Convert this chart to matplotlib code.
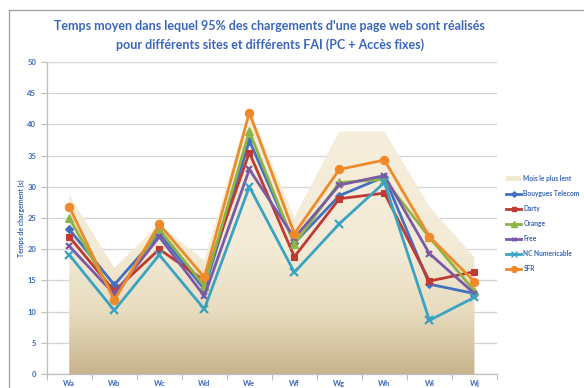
import numpy as np
import matplotlib.pyplot as plt
from matplotlib.patches import Polygon
from matplotlib.lines import Line2D

plt.rcParams['font.family'] = ['Lato', 'DejaVu Sans']

sites = ['Wa', 'Wb', 'Wc', 'Wd', 'We', 'Wf', 'Wg', 'Wh', 'Wi', 'Wj']
mois_lent = [28.7, 17.0, 24.0, 18.2, 42.5, 25.1, 38.9, 38.9, 26.8, 18.7]
bouygues = [23.2, 14.3, 22.5, 13.6, 37.4, 21.0, 28.6, 31.6, 14.4, 12.9]
darty = [22.0, 13.3, 20.0, 15.0, 35.5, 18.8, 28.1, 29.0, 14.9, 16.4]
orange = [25.0, 12.3, 23.2, 14.1, 38.9, 20.8, 30.7, 31.2, 21.9, 13.3]
free = [20.5, 12.8, 22.0, 12.5, 32.8, 21.8, 30.3, 31.8, 19.3, 12.9]
numericable = [19.1, 10.2, 19.1, 10.4, 30.0, 16.3, 24.1, 30.7, 8.6, 12.3]
sfr = [26.8, 11.8, 24.0, 15.5, 41.9, 22.5, 32.8, 34.3, 22.0, 14.8]

series = [
    ('Bouygues Telecom', bouygues, '#4470c0', 'D', 4.0),
    ('Darty', darty, '#bf3a32', 's', 5.0),
    ('Orange', orange, '#8db546', '^', 5.5),
    ('Free', free, '#7a5aa6', 'x', 5.0),
    ('NC Numericable', numericable, '#3aa3c2', 'x', 6.0),
    ('SFR', sfr, '#ef8a2a', 'o', 6.0),
]

blue = '#3a66bb'

fig = plt.figure(figsize=(5.84, 3.88), dpi=100)
ax = fig.add_axes([0.080, 0.036, 0.771, 0.804])

x = np.arange(len(sites))

# slowest month as a shaded area with a vertical gradient
verts = [(x[0], 0)] + list(zip(x, mois_lent)) + [(x[-1], 0)]
poly = Polygon(verts, closed=True, facecolor='none', edgecolor='none')
ax.add_patch(poly)
cmap = plt.matplotlib.colors.LinearSegmentedColormap.from_list(
    'sable', [(0.0, '#c8b48c'), (0.2, '#e8dcbf'), (0.4, '#f3ebd6'), (1.0, '#f7f0df')])
grad = np.linspace(0, 1, 256).reshape(-1, 1)
im = ax.imshow(grad, extent=[x[0], x[-1], 0, 50], origin='lower', aspect='auto',
               cmap=cmap, zorder=1)
im.set_clip_path(poly)

for name, vals, col, mk, ms in series:
    mew = 1.6 if mk == 'x' else 0.8
    ax.plot(x, vals, color=col, lw=2.0, marker=mk, markersize=ms,
            markeredgecolor=col, markeredgewidth=mew, zorder=3)

ax.set_xlim(-0.5, 9.5)
ax.set_ylim(0, 50)
ax.set_yticks(range(0, 51, 5))
ax.set_xticks(x)
ax.set_xticklabels(sites)
ax.set_xticks(np.arange(-0.5, 10, 1), minor=True)
ax.grid(axis='y', color='#d4d4d4', lw=0.9, zorder=0)
ax.set_axisbelow(True)
for s in ['top', 'right']:
    ax.spines[s].set_visible(False)
for s in ['left', 'bottom']:
    ax.spines[s].set_color('#bdbdbd')
    ax.spines[s].set_linewidth(0.9)
ax.tick_params(axis='y', colors='#bdbdbd', labelcolor=blue, labelsize=5.5, length=4, width=0.8)
ax.tick_params(axis='x', which='major', length=0, labelcolor=blue, labelsize=5.5, pad=4)
ax.tick_params(axis='x', which='minor', length=4, color='#bdbdbd', width=0.8)
for lab in ax.get_xticklabels() + ax.get_yticklabels():
    lab.set_fontweight('bold')
ax.set_ylabel('Temps de chargement (s)', color=blue, fontsize=5, fontweight='bold', labelpad=2)

fig.text(0.462, 0.908, "Temps moyen dans lequel 95% des chargements d'une page web sont réalisés\n"
         "pour différents sites et différents FAI (PC + Accès fixes)",
         ha='center', va='center', color=blue, fontsize=9, fontweight='bold', linespacing=1.55)

handles = [plt.matplotlib.patches.Patch(facecolor='#f1e8cf', edgecolor='none')]
labels = ['Mois le plus lent']
for name, vals, col, mk, ms in series:
    handles.append(Line2D([], [], color=col, lw=2.0, marker=mk, markersize=ms * 0.7,
                          markeredgecolor=col))
    labels.append(name)
leg = fig.legend(handles, labels, loc='upper left', bbox_to_anchor=(0.862, 0.556),
                 frameon=False, fontsize=4.8, handlelength=2.3, handleheight=0.6,
                 labelspacing=1.2, handletextpad=0.3, borderaxespad=0)
for t in leg.get_texts():
    t.set_color(blue)
    t.set_fontweight('bold')

# chart border
fig.add_artist(Line2D([0.015, 1.0], [0.975, 0.975], color='#9e9e9e', lw=0.9))
fig.add_artist(Line2D([0.015, 0.015], [0.0, 0.975], color='#9e9e9e', lw=0.9))

fig.savefig('out.png', dpi=100)
